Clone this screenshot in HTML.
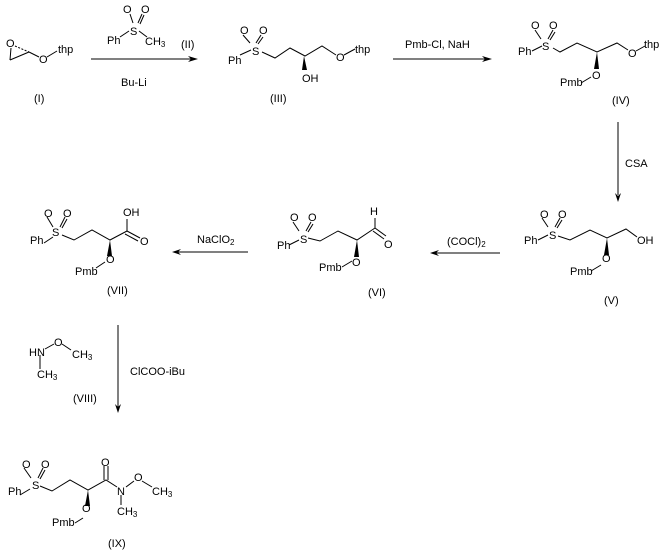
<!DOCTYPE html>
<html><head><meta charset="utf-8"><style>
body{margin:0;background:#fff}
svg text{font-family:"Liberation Sans",Arial,sans-serif;font-size:11px;fill:#000}
.s{font-size:8px}
</style></head><body>
<svg width="666" height="552" viewBox="0 0 666 552" xmlns="http://www.w3.org/2000/svg">
<g stroke="#000" stroke-width="1" fill="none">
<!-- I -->
<line x1="11" y1="48" x2="10" y2="60"/><line x1="10" y1="60" x2="29" y2="52"/><line x1="15" y1="46" x2="29" y2="52" stroke-dasharray="2,1.5"/><line x1="29" y1="52" x2="39" y2="57"/><line x1="47" y1="57" x2="57" y2="51"/>
<!-- arrow1 -->
<line x1="91" y1="59" x2="196" y2="59"/>
<!-- II -->
<line x1="120" y1="37" x2="129" y2="31"/><line x1="139" y1="31" x2="147" y2="37"/><line x1="130" y1="14" x2="133" y2="23"/><line x1="142" y1="14" x2="138" y2="23"/><line x1="144" y1="15" x2="140" y2="24"/>
<!-- III -->
<line x1="240" y1="55" x2="251" y2="50"/><line x1="243" y1="35" x2="250" y2="43"/><line x1="261" y1="35" x2="256" y2="43"/><line x1="263" y1="37" x2="258" y2="44"/>
<polyline points="262,52 275,58 290,48 305,56 322,46 336,55"/><line x1="344" y1="55" x2="355" y2="49"/>
<!-- arrow2 -->
<line x1="393" y1="59" x2="490" y2="59"/>
<!-- IV -->
<line x1="532" y1="51" x2="542" y2="46"/><line x1="535" y1="30" x2="541" y2="39"/><line x1="553" y1="30" x2="548" y2="39"/><line x1="555" y1="32" x2="550" y2="40"/>
<polyline points="553,48 560,52 577,43 597,52 617,43 628,50"/><line x1="636" y1="51" x2="645" y2="46"/><line x1="581" y1="83" x2="591" y2="77"/>
<!-- CSA arrow -->
<line x1="618" y1="122" x2="618" y2="195"/>
<!-- V -->
<line x1="538" y1="240" x2="548" y2="235"/><line x1="542" y1="218" x2="548" y2="227"/><line x1="560" y1="218" x2="555" y2="227"/><line x1="562" y1="220" x2="557" y2="228"/>
<polyline points="558,236 570,240 590,230 607,238 626,229 637,237"/><line x1="591" y1="271" x2="601" y2="265"/>
<!-- arrow COCl2 -->
<line x1="434" y1="253" x2="500" y2="253"/>
<!-- VI -->
<line x1="289" y1="245" x2="299" y2="240"/><line x1="293" y1="222" x2="299" y2="231"/><line x1="311" y1="222" x2="306" y2="231"/><line x1="313" y1="224" x2="308" y2="232"/>
<polyline points="308,238 320,241 338,231 357,240 375,228"/><line x1="375" y1="228" x2="386" y2="236"/><line x1="373" y1="231" x2="384" y2="239"/><line x1="375" y1="228" x2="375" y2="218"/><line x1="342" y1="267" x2="352" y2="261"/>
<!-- arrow NaClO2 -->
<line x1="177" y1="252" x2="248" y2="252"/>
<!-- VII -->
<line x1="44" y1="243" x2="53" y2="237"/><line x1="47" y1="217" x2="53" y2="227"/><line x1="65" y1="217" x2="60" y2="227"/><line x1="67" y1="219" x2="62" y2="228"/>
<polyline points="62,235 74,240 92,230 110,240 127,231"/><line x1="127" y1="231" x2="140" y2="238"/><line x1="125" y1="234" x2="138" y2="241"/><line x1="127" y1="231" x2="127" y2="219"/><line x1="96" y1="268" x2="105" y2="262"/>
<!-- arrow down -->
<line x1="118" y1="325" x2="118" y2="410"/>
<!-- VIII -->
<line x1="45" y1="349" x2="54" y2="344"/><line x1="62" y1="344" x2="71" y2="350"/><line x1="40" y1="355" x2="40" y2="369"/>
<!-- IX -->
<line x1="20" y1="495" x2="30" y2="489"/><line x1="24" y1="468" x2="31" y2="478"/><line x1="43" y1="468" x2="38" y2="478"/><line x1="45" y1="470" x2="40" y2="479"/>
<polyline points="40,486 52,491 70,480 88,490 106,480 117,487"/><line x1="104" y1="480" x2="104" y2="466"/><line x1="108" y1="480" x2="108" y2="466"/><line x1="126" y1="487" x2="134" y2="481"/><line x1="142" y1="481" x2="152" y2="487"/><line x1="121" y1="495" x2="121" y2="505"/><line x1="75" y1="523" x2="83" y2="518"/>
</g>
<g fill="#000">
<polygon points="188,56 198,59 188,62 191,59"/>
<polygon points="482,56 492,59 482,62 485,59"/>
<polygon points="615,193 618,202 621,193 618,196"/>
<polygon points="439,250 430,253 439,256 436,253"/>
<polygon points="181,249 172,252 181,255 178,252"/>
<polygon points="115,404 118,413 121,404 118,407"/>
<polygon points="304,56 302,70 307,70"/>
<polygon points="597,52 594,69 599,69"/>
<polygon points="607,238 604,255 609,255"/>
<polygon points="357,240 354,257 359,257"/>
<polygon points="110,240 107,256 112,256"/>
<polygon points="88,490 85,506 90,506"/>
</g>
<text x="6" y="47">O</text><text x="39" y="63">O</text><text x="58" y="53">thp</text><text x="34" y="102">(I)</text>
<text x="123" y="13">O</text><text x="141" y="13">O</text><text x="107" y="44">Ph</text><text x="130" y="35">S</text><text x="145" y="45">CH<tspan class="s" dy="2">3</tspan></text>
<text x="181" y="48">(II)</text><text x="121" y="86">Bu-Li</text>
<text x="240" y="34">O</text><text x="259" y="34">O</text><text x="228" y="64">Ph</text><text x="252" y="55">S</text><text x="336" y="61">O</text><text x="355" y="53">thp</text><text x="302" y="82">OH</text><text x="270" y="102">(III)</text>
<text x="405" y="48">Pmb-Cl, NaH</text>
<text x="531" y="29">O</text><text x="549" y="29">O</text><text x="518" y="55">Ph</text><text x="542" y="50">S</text><text x="628" y="57">O</text><text x="644" y="48">thp</text><text x="592" y="79">O</text><text x="560" y="86">Pmb</text><text x="612" y="104">(IV)</text>
<text x="625" y="167">CSA</text>
<text x="540" y="218">O</text><text x="558" y="218">O</text><text x="524" y="244">Ph</text><text x="549" y="239">S</text><text x="637" y="244">OH</text><text x="602" y="262">O</text><text x="570" y="275">Pmb</text><text x="604" y="304">(V)</text>
<text x="447" y="245">(COCl)<tspan class="s" dy="2">2</tspan></text>
<text x="290" y="221">O</text><text x="308" y="221">O</text><text x="277" y="249">Ph</text><text x="300" y="243">S</text><text x="370" y="215">H</text><text x="384" y="248">O</text><text x="352" y="266">O</text><text x="319" y="271">Pmb</text><text x="368" y="296">(VI)</text>
<text x="197" y="243">NaClO<tspan class="s" dy="2">2</tspan></text>
<text x="44" y="217">O</text><text x="63" y="217">O</text><text x="30" y="244">Ph</text><text x="52" y="236">S</text><text x="123" y="216">OH</text><text x="140" y="245">O</text><text x="106" y="263">O</text><text x="75" y="275">Pmb</text><text x="107" y="294">(VII)</text>
<text x="130" y="375">ClCOO-iBu</text>
<text x="29" y="356">HN</text><text x="54" y="346">O</text><text x="72" y="358">CH<tspan class="s" dy="2">3</tspan></text><text x="37" y="378">CH<tspan class="s" dy="2">3</tspan></text><text x="73" y="402">(VIII)</text>
<text x="22" y="468">O</text><text x="41" y="468">O</text><text x="8" y="495">Ph</text><text x="32" y="489">S</text><text x="101" y="466">O</text><text x="117" y="495">N</text><text x="134" y="481">O</text><text x="152" y="495">CH<tspan class="s" dy="2">3</tspan></text><text x="117" y="515">CH<tspan class="s" dy="2">3</tspan></text><text x="82" y="512">O</text><text x="52" y="526">Pmb</text><text x="108" y="547">(IX)</text>
</svg>
</body></html>
